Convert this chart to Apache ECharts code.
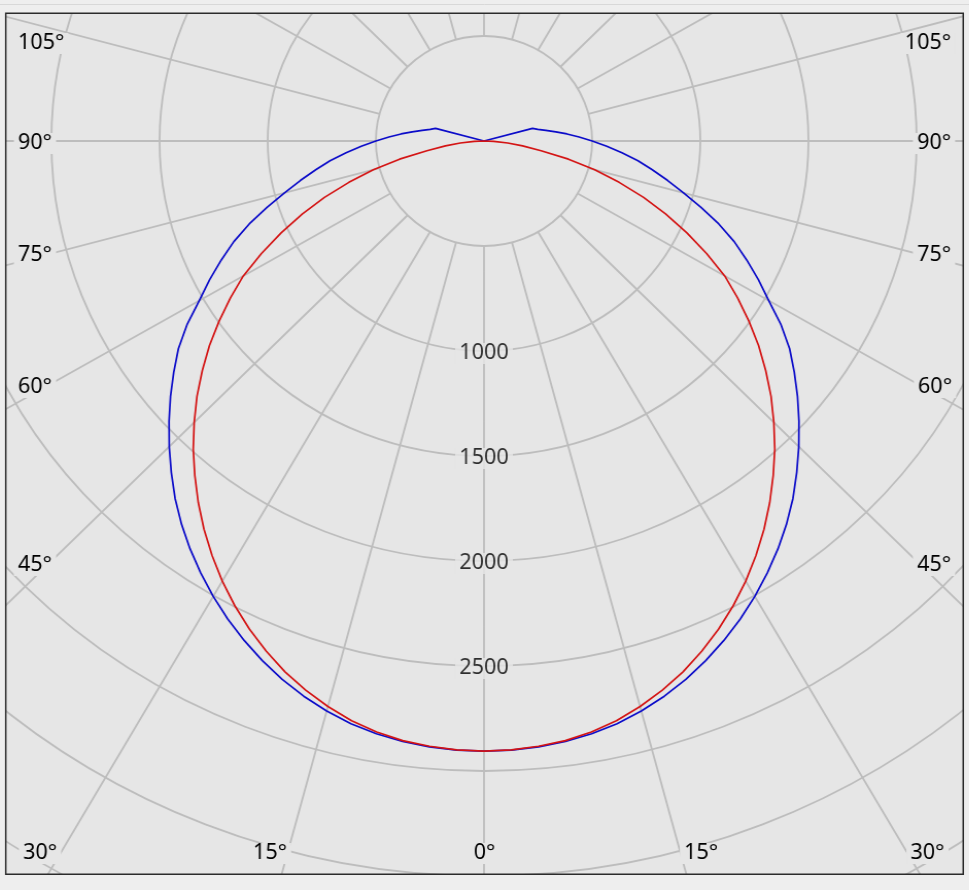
<!DOCTYPE html>
<html><head><meta charset="utf-8">
<script src="https://cdn.jsdelivr.net/npm/echarts@6/dist/echarts.min.js"></script>
<style>
html,body{margin:0;padding:0;background:#eeeeee;overflow:hidden;}
#chart{width:969px;height:890px;transform:scaleX(1.03);transform-origin:484px 0;}
</style></head><body><div id="chart"></div>
<script>
// ---- data (luminous intensity, cd), symmetric planes ----
const RED_ANGLES  = [0,2.5,5,7.5,10,12.5,15,17.5,20,22.5,25,27.5,30,32.5,35,37.5,40,42.5,45,47.5,50,52.5,55,57.5,60,62.5,65,67.5,70,72.5,75,77.5,80,82.5,85,87.5,90];
const RED_VALUES  = [2905,2902,2893,2880,2858,2828,2788,2742,2690,2630,2565,2495,2420,2340,2257,2170,2080,1990,1895,1800,1700,1600,1495,1390,1285,1160,1035,910,785,655,530,400,268,180,110,45,0];
const BLUE_ANGLES = [0,2.5,5,7.5,10,12.5,15,17.5,20,22.5,25,27.5,30,32.5,35,37.5,40,42.5,45,47.5,50,52.5,55,57.5,60,62.5,65,67.5,70,72.5,75,77.5,80,82.5,85,87.5,90,92.5,95,97.5,100,102.5,105,180];
const BLUE_VALUES = [2905,2903,2896,2884,2866,2842,2810,2772,2728,2678,2624,2566,2504,2438,2370,2298,2222,2140,2058,1975,1892,1808,1725,1628,1520,1430,1340,1252,1155,1052,955,870,790,718,640,568,500,440,385,335,290,255,232,0];
const RING_LABELS = [1000,1500,2000,2500];
const ANGLE_TICK_TEXT = ['105°','90°','75°','60°','45°','30°','15°','0°','15°','30°','45°','60°','75°','90°','105°'];

// ---- layout ----
const STRETCH = 1.03, CX = 484, CY = 141, R_MAX = 945, R_MAX_VAL = 4500;
const sx = x => CX + (x - CX) / STRETCH;
const LABEL_POS = [[41,41],[35,141],[35,253],[35,385],[35,563],[40,851],[270,851],[484.5,851],[701,851],[927.5,851],[934,563],[935,385],[934,253],[934,141],[928,41]];
const TEXT_DY = 2.5;
const FONT_FAMILY = '"Noto Sans", "DejaVu Sans", sans-serif';
const FONT = '21px ' + FONT_FAMILY;
const BG = '#e6e6e6', OUT = '#eeeeee', GRID = '#bdbdbd';
const BLUE = '#0b0bc9', RED = '#d41414';

function buildSide(angles, values) {
  const left = [], right = [];
  for (let i = angles.length - 1; i >= 0; i--) left.push([values[i], -angles[i]]);
  for (let i = 1; i < angles.length; i++) right.push([values[i], angles[i]]);
  return left.concat(right);
}

const chart = echarts.init(document.getElementById('chart'));
const graphics = [
  {type:'rect', z:100, shape:{x:0,y:0,width:969,height:13}, style:{fill:OUT}},
  {type:'rect', z:100, shape:{x:0,y:874.5,width:969,height:20}, style:{fill:OUT}},
  {type:'rect', z:100, shape:{x:0,y:0,width:sx(5.2),height:890}, style:{fill:OUT}},
  {type:'rect', z:100, shape:{x:sx(963.8),y:0,width:60,height:890}, style:{fill:OUT}},
  {type:'line', z:100, shape:{x1:0,y1:4.5,x2:969,y2:4.5}, style:{stroke:'#d8d8d8',lineWidth:1}},
  {type:'rect', z:101, shape:{x:sx(5.75),y:13.25,width:sx(963.25)-sx(5.75),height:861}, style:{fill:null,stroke:'#2b2b2b',lineWidth:1.5}}
];
ANGLE_TICK_TEXT.forEach((t, i) => {
  graphics.push({type:'text', z:102, x:sx(LABEL_POS[i][0]), y:LABEL_POS[i][1] + TEXT_DY,
    style:{text:t, font:FONT, fill:'#000', align:'center', verticalAlign:'middle',
      textAlign:'center', textVerticalAlign:'middle', backgroundColor:BG, padding:[0,4]}});
});

const lineBase = {type:'line', coordinateSystem:'polar', polarIndex:0, showSymbol:false, symbol:'none', smooth:false};

chart.setOption({
  backgroundColor: BG,
  animation: false,
  polar: [
    {center:[CX, CY], radius:[0, R_MAX]},
    {center:[CX, CY], radius:[105, R_MAX]}
  ],
  angleAxis: [
    {polarIndex:0, type:'value', min:-180, max:180, startAngle:90, clockwise:false, show:false},
    {polarIndex:1, type:'value', min:-180, max:180, interval:15, startAngle:90, clockwise:false,
     axisLine:{show:false}, axisTick:{show:false}, axisLabel:{show:false},
     splitLine:{show:true, lineStyle:{color:GRID, width:1.8}}}
  ],
  radiusAxis: [
    {polarIndex:0, type:'value', min:0, max:R_MAX_VAL, interval:500,
     axisLine:{show:false}, axisTick:{show:false}, axisLabel:{show:false},
     splitLine:{show:true, lineStyle:{color:GRID, width:1.8}}},
    {polarIndex:1, type:'value', min:0, max:1, show:false, splitLine:{show:false}}
  ],
  series: [
    Object.assign({}, lineBase, {name:'C90-C270', data:buildSide(BLUE_ANGLES, BLUE_VALUES),
      lineStyle:{color:BLUE, width:1.7, join:'round'}, z:3}),
    Object.assign({}, lineBase, {name:'C0-C180', data:buildSide(RED_ANGLES, RED_VALUES),
      lineStyle:{color:RED, width:1.7, join:'round'}, z:4}),
    {type:'scatter', coordinateSystem:'polar', polarIndex:0, symbolSize:0, z:5,
     data: RING_LABELS.map(v => [v, 0]),
     label:{show:true, position:'inside', offset:[0, TEXT_DY], formatter:p => String(p.value[0]),
       fontSize:21, fontFamily:FONT_FAMILY,
       color:'#000', backgroundColor:BG, padding:[0,4]}}
  ],
  graphic: graphics
});
</script></body></html>
